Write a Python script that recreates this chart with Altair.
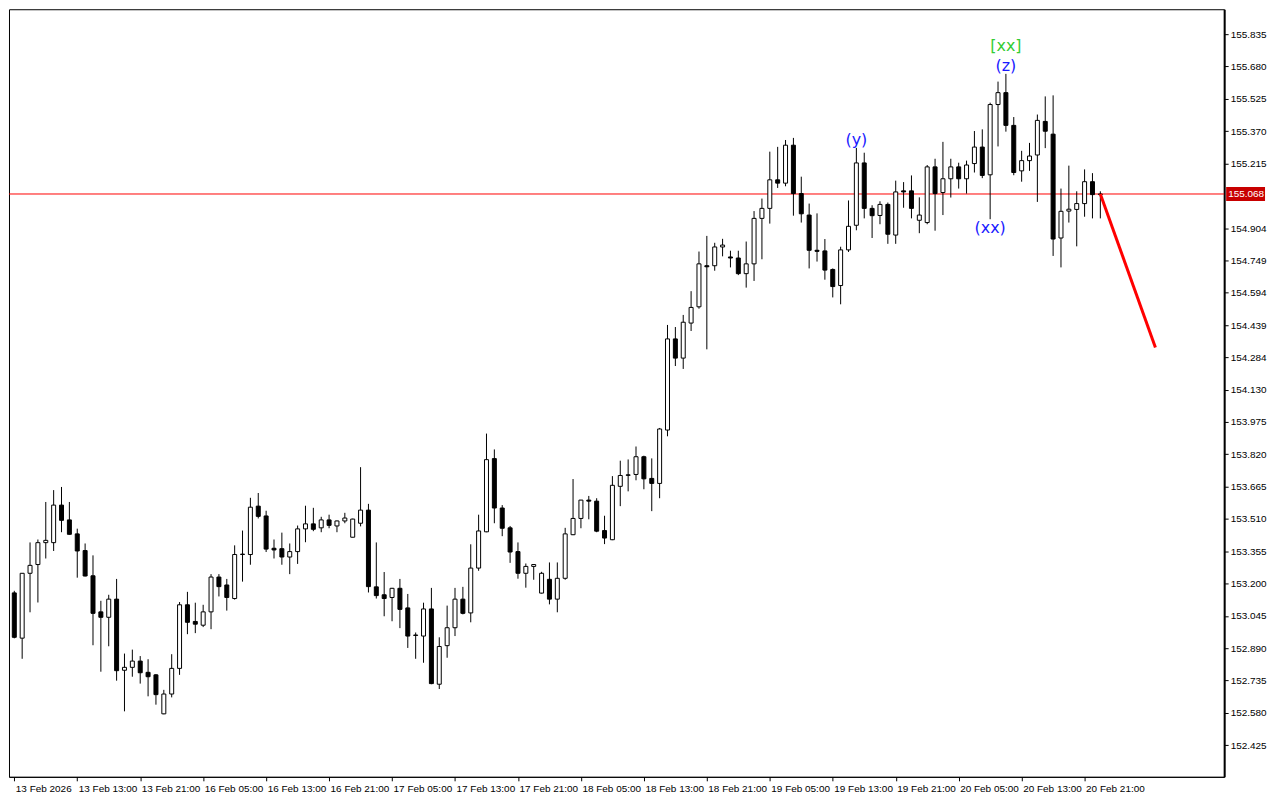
import json
import numpy as np
import pandas as pd
import altair as alt

# ---- data (hourly candles, index 0..138) ----
opens = [
153.155, 152.938, 153.249, 153.291, 153.396, 153.396, 153.576, 153.505, 153.438, 153.358,
153.237, 153.064, 153.038, 153.125, 152.784, 152.798, 152.828, 152.774, 152.762, 152.575,
152.670, 152.793, 153.098, 153.018, 153.000, 153.064, 153.231, 153.193, 153.128, 153.339,
153.339, 153.571, 153.524, 153.369, 153.367, 153.327, 153.353, 153.462, 153.486, 153.467,
153.505, 153.476, 153.500, 153.422, 153.489, 153.552, 153.184, 153.146, 153.133, 153.177,
153.083, 152.953, 152.948, 153.078, 152.717, 152.902, 152.988, 153.125, 153.059, 153.274,
153.448, 153.799, 153.562, 153.467, 153.353, 153.249, 153.282, 153.154, 153.220, 153.125,
153.225, 153.434, 153.512, 153.600, 153.595, 153.454, 153.410, 153.666, 153.721, 153.723,
153.808, 153.704, 153.680, 153.936, 154.373, 154.281, 154.449, 154.527, 154.724, 154.724,
154.814, 154.766, 154.761, 154.686, 154.733, 154.951, 154.999, 155.136, 155.120, 155.302,
155.070, 154.967, 154.798, 154.795, 154.706, 154.629, 154.800, 154.918, 155.217, 154.999,
154.965, 155.018, 154.871, 155.083, 155.083, 154.942, 154.931, 155.198, 155.075, 155.141,
155.198, 155.141, 155.214, 155.293, 155.160, 155.497, 155.554, 155.397, 155.179, 155.228,
155.255, 155.416, 155.355, 154.857, 154.986, 154.994, 155.022, 155.127, 155.065]

highs = [
153.165, 153.250, 153.397, 153.411, 153.591, 153.648, 153.663, 153.591, 153.463, 153.392,
153.335, 153.117, 153.146, 153.222, 152.864, 152.883, 152.852, 152.837, 152.766, 152.690,
152.861, 153.111, 153.160, 153.108, 153.098, 153.245, 153.245, 153.222, 153.383, 153.454,
153.611, 153.634, 153.549, 153.411, 153.444, 153.392, 153.478, 153.573, 153.563, 153.520,
153.530, 153.502, 153.539, 153.511, 153.758, 153.582, 153.397, 153.255, 153.179, 153.222,
153.150, 152.965, 153.108, 153.179, 152.942, 153.094, 153.179, 153.184, 153.388, 153.530,
153.919, 153.843, 153.576, 153.476, 153.397, 153.296, 153.293, 153.256, 153.301, 153.301,
153.467, 153.701, 153.601, 153.620, 153.609, 153.525, 153.715, 153.789, 153.795, 153.857,
153.813, 153.800, 153.946, 154.440, 154.430, 154.488, 154.602, 154.792, 154.867, 154.834,
154.853, 154.796, 154.796, 154.840, 154.986, 155.046, 155.271, 155.294, 155.327, 155.337,
155.151, 155.022, 154.975, 154.852, 154.711, 154.815, 155.037, 155.289, 155.266, 155.014,
155.033, 155.027, 155.132, 155.125, 155.157, 155.052, 155.207, 155.237, 155.318, 155.237,
155.218, 155.228, 155.370, 155.378, 155.506, 155.607, 155.644, 155.437, 155.275, 155.313,
155.449, 155.536, 155.541, 155.094, 155.204, 155.081, 155.186, 155.168, 155.081]

lows = [
152.937, 152.839, 153.062, 153.109, 153.320, 153.356, 153.446, 153.434, 153.228, 153.234,
152.904, 152.777, 152.899, 152.734, 152.587, 152.753, 152.720, 152.659, 152.619, 152.573,
152.654, 152.762, 152.957, 152.962, 152.991, 152.981, 153.138, 153.070, 153.123, 153.209,
153.290, 153.512, 153.351, 153.320, 153.290, 153.245, 153.294, 153.398, 153.451, 153.446,
153.465, 153.446, 153.489, 153.421, 153.474, 153.157, 153.128, 153.043, 153.019, 152.986,
152.891, 152.839, 152.820, 152.717, 152.694, 152.844, 152.948, 153.052, 153.014, 153.261,
153.446, 153.489, 153.427, 153.299, 153.223, 153.180, 153.218, 153.152, 153.100, 153.062,
153.218, 153.432, 153.465, 153.508, 153.446, 153.389, 153.408, 153.571, 153.642, 153.695,
153.652, 153.547, 153.609, 153.906, 154.243, 154.229, 154.411, 154.518, 154.323, 154.700,
154.769, 154.716, 154.679, 154.619, 154.651, 154.755, 154.926, 155.097, 155.105, 154.964,
154.931, 154.711, 154.744, 154.657, 154.572, 154.539, 154.790, 154.894, 154.951, 154.857,
154.923, 154.829, 154.829, 155.002, 154.951, 154.880, 154.923, 154.892, 154.967, 155.051,
155.094, 155.070, 155.171, 155.144, 154.947, 155.296, 155.367, 155.158, 155.127, 155.179,
155.030, 155.288, 154.771, 154.716, 154.931, 154.817, 154.959, 154.951, 154.951]

closes = [
152.942, 153.249, 153.287, 153.396, 153.407, 153.576, 153.503, 153.436, 153.356, 153.236,
153.057, 153.038, 153.125, 152.782, 152.798, 152.828, 152.772, 152.753, 152.667, 152.670,
152.793, 153.098, 153.014, 153.005, 153.064, 153.231, 153.185, 153.133, 153.339, 153.341,
153.566, 153.522, 153.365, 153.361, 153.327, 153.353, 153.462, 153.486, 153.460, 153.505,
153.479, 153.500, 153.514, 153.509, 153.552, 153.185, 153.142, 153.128, 153.177, 153.076,
152.948, 152.951, 153.078, 152.720, 152.898, 152.988, 153.125, 153.057, 153.274, 153.452,
153.794, 153.562, 153.465, 153.351, 153.249, 153.282, 153.291, 153.249, 153.125, 153.225,
153.438, 153.512, 153.600, 153.595, 153.451, 153.418, 153.671, 153.718, 153.719, 153.808,
153.702, 153.680, 153.941, 154.373, 154.281, 154.453, 154.524, 154.733, 154.719, 154.814,
154.823, 154.761, 154.686, 154.733, 154.951, 154.999, 155.136, 155.120, 155.302, 155.070,
154.973, 154.798, 154.793, 154.703, 154.624, 154.800, 154.913, 155.217, 154.999, 154.964,
155.018, 154.875, 155.078, 155.078, 154.999, 154.967, 155.198, 155.070, 155.141, 155.198,
155.141, 155.207, 155.293, 155.157, 155.497, 155.554, 155.397, 155.171, 155.228, 155.250,
155.421, 155.369, 154.852, 154.985, 154.995, 155.022, 155.127, 155.065, 155.068]

x_labels = ["13 Feb 2026", "13 Feb 13:00", "13 Feb 21:00", "16 Feb 05:00", "16 Feb 13:00",
            "16 Feb 21:00", "17 Feb 05:00", "17 Feb 13:00", "17 Feb 21:00", "18 Feb 05:00",
            "18 Feb 13:00", "18 Feb 21:00", "19 Feb 05:00", "19 Feb 13:00", "19 Feb 21:00",
            "20 Feb 05:00", "20 Feb 13:00", "20 Feb 21:00"]
x_label_pos = [0, 8, 16, 24, 32, 40, 48, 56, 64, 72, 80, 88, 96, 104, 112, 120, 128, 136]

y_ticks = [155.835, 155.680, 155.525, 155.370, 155.215, 154.904, 154.749, 154.594,
           154.439, 154.284, 154.130, 153.975, 153.820, 153.665, 153.510, 153.355,
           153.200, 153.045, 152.890, 152.735, 152.580, 152.425]

current_price = [155.068]
current_label = ["155.068"]

proj_idx = [138, 145]
proj_price = [155.068, 154.332]

ann_text = ["(y)", "(xx)", "(z)", "[xx]"]
ann_idx = [107, 124, 126, 126]
ann_price = [155.327, 154.905, 155.683, 155.776]
ann_color = ["#1a1aff", "#1a1aff", "#1a1aff", "#33cc33"]

# ---- chart ----
W, H = 1219, 770
XDOM = [-0.04, 153.1]
YDOM = [152.273, 155.954]
FONT = "Liberation Sans"

candles = pd.DataFrame({"i": list(range(len(opens))), "open": opens, "high": highs,
                        "low": lows, "close": closes})
candles["dir"] = np.where(candles["close"] >= candles["open"], "up", "down")

xscale = alt.Scale(domain=XDOM, nice=False, zero=False)
yscale = alt.Scale(domain=YDOM, nice=False, zero=False)

label_expr = json.dumps(x_labels) + "[round(datum.value / 8)]"
xaxis = alt.Axis(values=x_label_pos, labelExpr=label_expr, labelAlign="left",
                 labelBaseline="top", labelPadding=3, tickSize=4, grid=False,
                 labelOverlap=False, labelFlush=False, title=None,
                 domainColor="black", tickColor="black", labelColor="black",
                 labelFont=FONT, labelFontSize=10, labelOffset=1)
yaxis = alt.Axis(orient="right", values=y_ticks, format=".3f", tickSize=4,
                 labelPadding=2, grid=False, labelOverlap=False, title=None,
                 domainColor="black", domainWidth=2, tickColor="black",
                 labelColor="black", labelFont=FONT, labelFontSize=10,
                 labelBaseline="middle")


def X(field):
    return alt.X(field, type="quantitative", scale=xscale, axis=xaxis)


def Y(field):
    return alt.Y(field, type="quantitative", scale=yscale, axis=yaxis)


wicks = alt.Chart(candles).mark_rule(color="black", strokeWidth=1).encode(
    x=X("i"), y=Y("low"), y2="high")

bodies = alt.Chart(candles).mark_bar(size=4, stroke="black", strokeWidth=1).encode(
    x=X("i"), y=Y("open"), y2="close",
    fill=alt.Fill("dir:N", scale=alt.Scale(domain=["up", "down"], range=["white", "black"]),
                  legend=None))

cp = pd.DataFrame({"p": current_price, "t": current_label})
hline = alt.Chart(cp).mark_rule(color="#ff0000", strokeWidth=1).encode(y=Y("p"))

proj = pd.DataFrame({"i": proj_idx, "p": proj_price})
proj_line = alt.Chart(proj).mark_line(color="#ff0000", strokeWidth=3).encode(
    x=X("i"), y=Y("p"))

price_box = alt.Chart(cp).mark_rule(color="#c80000", strokeWidth=14, strokeCap="butt").encode(
    x=alt.value(W + 2), x2=alt.value(W + 41), y=Y("p"))
price_text = alt.Chart(cp).mark_text(align="left", baseline="middle", color="white",
                                     font=FONT, fontSize=10).encode(
    x=alt.value(W + 4), y=Y("p"), text="t:N")

ann = pd.DataFrame({"i": ann_idx, "p": ann_price, "t": ann_text, "c": ann_color})
annotations = alt.Chart(ann).mark_text(align="center", baseline="middle",
                                       font="DejaVu Sans", fontSize=16).encode(
    x=X("i"), y=Y("p"), text="t:N", color=alt.Color("c:N", scale=None))

chart = alt.layer(hline, wicks, bodies, proj_line, annotations, price_box, price_text).properties(
    width=W, height=H, padding=0, background="white"
).configure_view(stroke="black", strokeWidth=1)

chart.save("out.html", embed_options={"renderer": "svg", "actions": False})
